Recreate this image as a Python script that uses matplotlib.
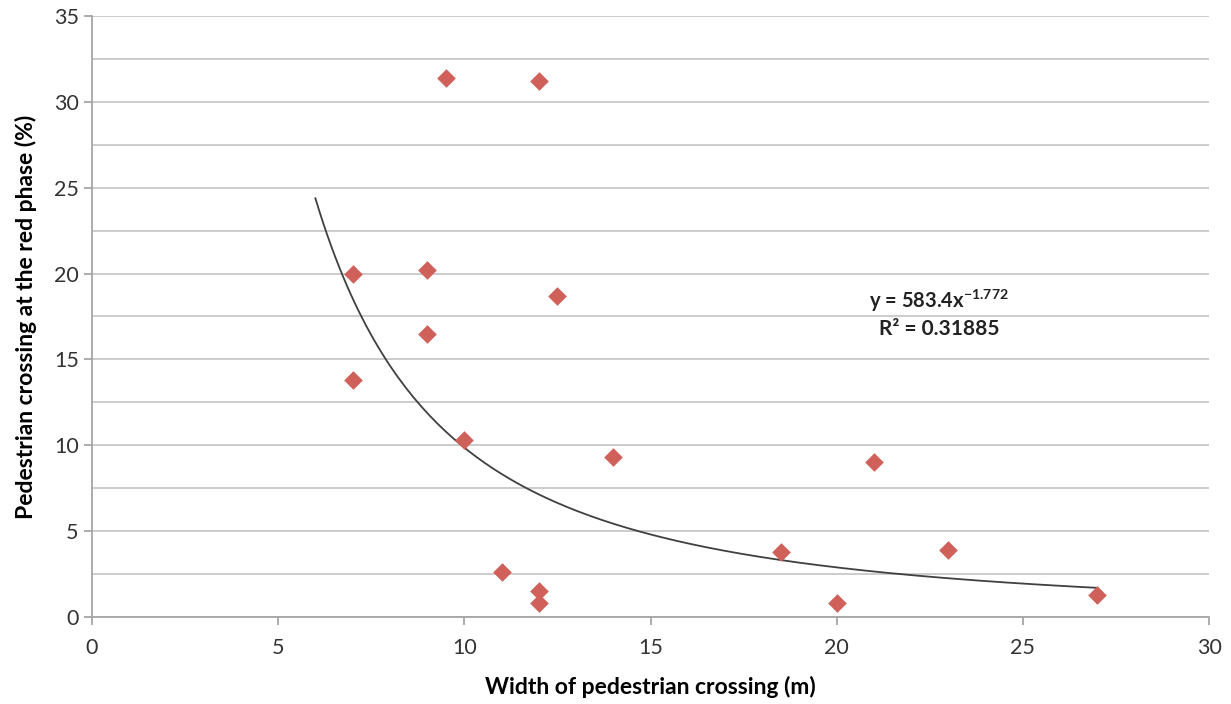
import numpy as np
import matplotlib.pyplot as plt

plt.rcParams['font.family'] = ['Lato', 'DejaVu Sans']
plt.rcParams['mathtext.fontset'] = 'custom'
plt.rcParams['mathtext.rm'] = 'Lato'
plt.rcParams['mathtext.bf'] = 'Lato:bold'

# Observed crossings: width of crossing (m) vs share crossing at red (%)
width_m = [7, 7, 9, 9, 9.5, 10, 11, 12, 12, 12, 12.5, 14, 18.5, 20, 21, 23, 27]
red_pct = [20.0, 13.8, 20.2, 16.5, 31.4, 10.3, 2.6, 31.2, 1.5, 0.8, 18.7, 9.3, 3.8, 0.8, 9.0, 3.9, 1.3]

# Power trend line shown on the chart
coef_a = 583.4
coef_b = -1.772
r_squared = 0.31885

fig = plt.figure(figsize=(12.31, 7.04), dpi=100)
ax = fig.add_axes([0.0747, 0.1236, 0.9075, 0.8537])

grid_col = '#c8c8c8'
ax.set_xlim(0, 30)
ax.set_ylim(0, 35)
ax.set_xticks(np.arange(0, 31, 5))
ax.set_yticks(np.arange(0, 36, 5))
ax.set_yticks(np.arange(2.5, 35, 5), minor=True)
ax.grid(True, axis='y', which='both', color=grid_col, linewidth=1.3)
ax.set_axisbelow(True)

for side in ['top', 'right']:
    ax.spines[side].set_visible(False)
for side in ['left', 'bottom']:
    ax.spines[side].set_color('#a6a6a6')
    ax.spines[side].set_linewidth(1.3)
ax.tick_params(axis='both', which='major', direction='out', length=6, width=1.3,
               color='#a6a6a6', labelsize=15.5, labelcolor='#333333')
ax.tick_params(axis='y', which='minor', length=0)
ax.tick_params(axis='x', pad=9)

# trend curve from the displayed equation
xs = np.linspace(6, 27, 200)
ax.plot(xs, coef_a * xs ** coef_b, color='#404040', linewidth=1.3, zorder=2)

ax.scatter(width_m, red_pct, marker='D', s=90, color='#d0605a', zorder=3, linewidths=0)

ax.text(22.75, 18.4, r'y = 583.4x$^{\mathbf{-1.772}}$', fontsize=14.5, fontweight='bold',
        ha='center', va='center', color='#222222')
ax.text(22.75, 16.8, 'R² = %.5f' % r_squared, fontsize=15, fontweight='bold',
        ha='center', va='center', color='#222222')

ax.set_xlabel('Width of pedestrian crossing (m)', fontsize=16.5, fontweight='bold', labelpad=13)
ax.set_ylabel('Pedestrian crossing at the red phase (%)', fontsize=16.5, fontweight='bold', labelpad=12)

fig.savefig('out.png', dpi=100)
